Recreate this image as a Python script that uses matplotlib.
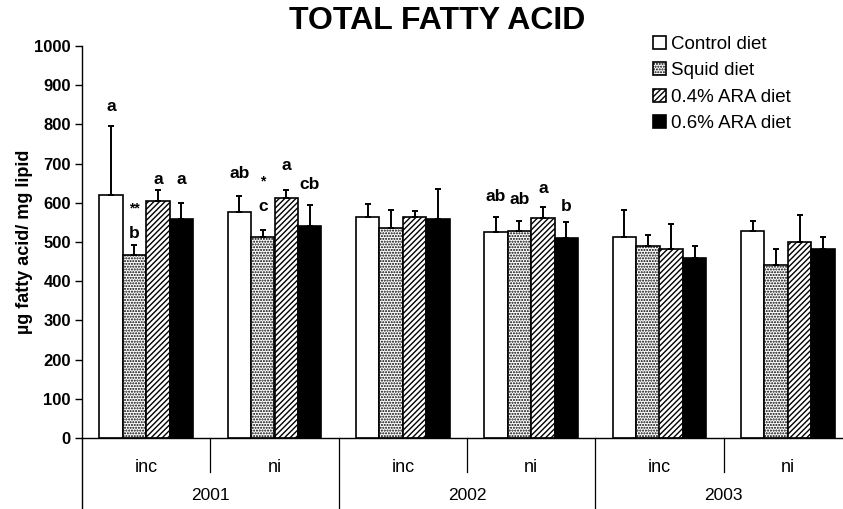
import numpy as np
import matplotlib
matplotlib.use("Agg")
import matplotlib.pyplot as plt
from matplotlib.patches import Patch
from matplotlib.transforms import blended_transform_factory

plt.rcParams['font.family'] = ['Liberation Sans', 'DejaVu Sans']

# groups: year x site
sites = ['inc', 'ni', 'inc', 'ni', 'inc', 'ni']
years = ['2001', '2002', '2003']
diets = ['Control diet', 'Squid diet', '0.4% ARA diet', '0.6% ARA diet']

# mean total fatty acid (ug/mg lipid) per group, one list per diet
control = [620, 577, 565, 526, 513, 528]
squid = [467, 513, 535, 528, 489, 442]
ara04 = [605, 612, 565, 560, 483, 500]
ara06 = [559, 541, 559, 509, 460, 481]

# upper standard deviation
control_sd = [176, 40, 31, 39, 69, 26]
squid_sd = [25, 18, 47, 26, 30, 41]
ara04_sd = [28, 21, 15, 29, 64, 70]
ara06_sd = [41, 53, 76, 41, 30, 33]

# significance letters: (group, diet, text, offset above error cap in px)
letters = [
    (0, 0, 'a', 19), (0, 1, 'b', 12), (0, 1, '**', 37), (0, 2, 'a', 10), (0, 3, 'a', 23),
    (1, 0, 'ab', 23), (1, 1, 'c', 23), (1, 1, '*', 48), (1, 2, 'a', 24), (1, 3, 'cb', 21),
    (3, 0, 'ab', 20), (3, 1, 'ab', 21), (3, 2, 'a', 19), (3, 3, 'b', 16),
]

means = [control, squid, ara04, ara06]
sds = [control_sd, squid_sd, ara04_sd, ara06_sd]
faces = ['white', 'white', 'white', 'black']
hatches = [None, '......', '//////', None]

fig = plt.figure(figsize=(8.43, 5.09), dpi=100)
ax = fig.add_axes([82 / 843, 71 / 509, 770 / 843, 392 / 509])

w = 0.183
x = np.arange(len(sites)) + 0.5
for k in range(4):
    xs = x + (k - 1.5) * w
    ax.bar(xs, means[k], w, color=faces[k], edgecolor='black', linewidth=1.2,
           hatch=hatches[k], zorder=2)
    ax.errorbar(xs, means[k], yerr=[np.zeros(len(sites)), sds[k]], fmt='none',
                ecolor='black', elinewidth=1.4, capsize=2.5, capthick=1.4, zorder=3)

for g, k, txt, dy in letters:
    xx = x[g] + (k - 1.5) * w
    top = means[k][g] + sds[k][g]
    ax.annotate(txt, (xx, top), xytext=(0, dy * 0.72), textcoords='offset points',
                ha='center', va='center', fontsize=12.5 if txt[0] != '*' else 10,
                fontweight='bold')

ax.set_xlim(0, 6)
ax.set_ylim(0, 1000)
ax.set_yticks(np.arange(0, 1001, 100))
ax.tick_params(axis='y', direction='out', length=5, width=1, labelsize=12, pad=3)
for lbl in ax.get_yticklabels():
    lbl.set_fontweight('bold')
ax.set_xticks([])
for s in ['top', 'right']:
    ax.spines[s].set_visible(False)
ax.spines['left'].set_linewidth(1)
ax.spines['bottom'].set_linewidth(1)

# two-level category axis below the plot
tr = blended_transform_factory(ax.transData, ax.transAxes)
for i, s in enumerate(sites):
    ax.text(x[i], -0.074, s, transform=tr, ha='center', va='center', fontsize=13)
for i in range(1, 6):
    low = -0.182 if i % 2 == 0 else -0.087
    ax.plot([i, i], [0, low], transform=tr, color='black', lw=0.9, clip_on=False)
ax.plot([0, 0], [0, -0.182], transform=tr, color='black', lw=1, clip_on=False)
for j, yr in enumerate(years):
    ax.text(2 * j + 1, -0.146, yr, transform=tr, ha='center', va='center', fontsize=12.5)

ax.set_ylabel('\u00b5g fatty acid/ mg lipid', fontsize=13, fontweight='bold', labelpad=1)
fig.text(437 / 843, 1 - 21 / 509, 'TOTAL FATTY ACID', ha='center', va='center',
         fontsize=23, fontweight='bold')

handles = [Patch(facecolor=faces[k], edgecolor='black', hatch=hatches[k], linewidth=1.2)
           for k in range(4)]
fig.legend(handles, diets, loc='upper left', bbox_to_anchor=(645 / 843, 1 - 28 / 509),
           frameon=False, fontsize=13.5, handlelength=0.7, handleheight=0.7,
           handletextpad=0.3, labelspacing=0.5, borderaxespad=0)

fig.savefig('out.png', dpi=100)
